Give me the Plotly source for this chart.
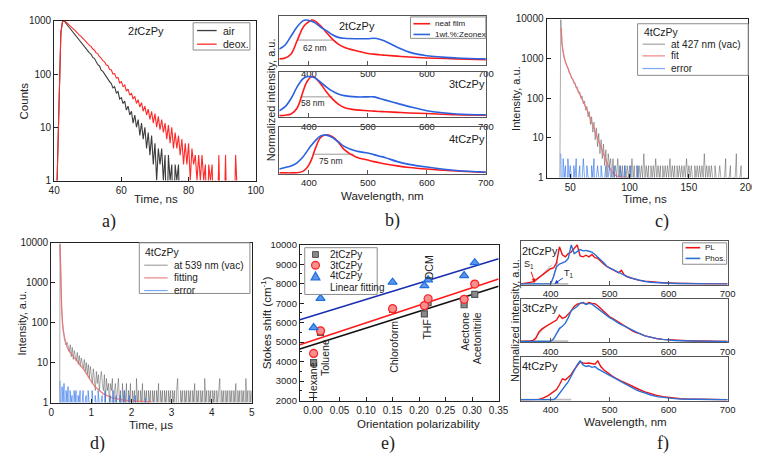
import plotly.graph_objects as go

W, H = 760, 457
def X(px): return px / W
def Y(py): return 1 - py / H

FONT = "Liberation Sans, Arial, sans-serif"
SERIF = "Liberation Serif, Times New Roman, serif"
INK = "#222222"

# ---------------- a) 2tCzPy decay, air vs deoxygenated ----------------
a_t0, a_dt = 40.0, 0.5
a_air = [0.1, 0.1, 2, 60, 600, 980, 1000, 900, 820, 760,
         700, 630, 590, 520, 480, 440, 400, 365, 335, 300,
         280, 250, 235, 205, 195, 170, 150, 142, 118, 112,
         100, 86, 80, 72, 66, 55, 58, 44, 47, 34,
         36, 28, 31, 21, 25, 17, 20, 12, 17, 10,
         14, 7, 12, 6, 10, 4, 8, 3, 7, 2,
         5, 1, 4, 2, 4, 1, 3, 0.1, 3, 1,
         2, 0.1, 2, 1, 2, 0.1, 1, 0.1, 1, 0.1,
         0.1]
a_deox = [0.1, 0.1, 2, 55, 580, 960, 1000, 950, 880, 830,
          770, 720, 680, 620, 590, 540, 510, 470, 440, 400,
          380, 345, 330, 295, 280, 250, 240, 212, 200, 178,
          170, 148, 145, 122, 120, 100, 102, 84, 86, 68,
          72, 58, 62, 48, 52, 40, 44, 34, 38, 28,
          33, 24, 29, 20, 25, 17, 22, 14, 20, 12,
          18, 10, 16, 9, 14, 8, 12, 6, 11, 5,
          10, 4, 8, 4, 7, 3, 6, 2, 5, 2,
          5, 1, 4, 2, 3, 1, 3, 1, 3, 1,
          2, 0.1, 2, 1, 2, 0.1, 1, 0.1, 3, 0.1,
          1, 0.1, 3, 0.1, 1, 0.1, 1, 0.1, 3, 0.1,
          0.1]
a_xticks = [40, 60, 80, 100]
log_ticks3 = [1, 10, 100, 1000]
log_text3 = ["1", "10", "100", "1000"]

# ---------------- b) steady-state PL spectra ----------------
b_wl = [350, 360, 370, 380, 390, 395, 400, 405, 410, 420, 430, 440,
        450, 460, 480, 500, 510, 520, 530, 550, 570, 600, 650, 700]
b_names = ["2tCzPy", "3tCzPy", "4tCzPy"]
b_neat = [
    [0.13, 0.15, 0.24, 0.53, 0.83, 0.91, 0.96, 1.0, 0.98, 0.87, 0.72, 0.57,
     0.46, 0.39, 0.31, 0.25, 0.235, 0.22, 0.21, 0.19, 0.17, 0.15, 0.13, 0.11],
    [0.04, 0.05, 0.08, 0.22, 0.62, 0.82, 0.94, 1.0, 0.98, 0.82, 0.62, 0.45,
     0.32, 0.24, 0.18, 0.16, 0.15, 0.14, 0.135, 0.12, 0.105, 0.09, 0.06, 0.05],
    [0.02, 0.02, 0.02, 0.025, 0.06, 0.12, 0.22, 0.38, 0.6, 0.93, 1.0, 0.95,
     0.81, 0.62, 0.43, 0.35, 0.31, 0.28, 0.25, 0.2, 0.16, 0.12, 0.07, 0.03],
]
b_zeonex = [
    [0.35, 0.44, 0.64, 0.84, 0.98, 1.0, 0.99, 0.97, 0.94, 0.84, 0.76, 0.67,
     0.61, 0.59, 0.58, 0.58, 0.59, 0.57, 0.52, 0.39, 0.28, 0.2, 0.15, 0.13],
    [0.16, 0.26, 0.46, 0.74, 0.94, 0.99, 1.0, 0.99, 0.97, 0.86, 0.74, 0.64,
     0.57, 0.53, 0.5, 0.5, 0.5, 0.46, 0.42, 0.34, 0.26, 0.16, 0.08, 0.06],
    [0.12, 0.16, 0.2, 0.28, 0.43, 0.53, 0.64, 0.74, 0.83, 0.97, 0.99, 0.93,
     0.82, 0.7, 0.58, 0.53, 0.49, 0.45, 0.41, 0.31, 0.24, 0.17, 0.08, 0.04],
]
b_fwhm_x = [[380, 442], [386, 440], [407, 476]]
b_fwhm_y = [0.55, 0.5, 0.5]
b_fwhm_text = ["62 nm", "58 nm", "75 nm"]
b_fwhm_label_xy = [(410, 0.38), (407, 0.35), (438, 0.33)]
b_ymax = [1.09, 1.10, 1.2]
wl_ticks = [400, 500, 600, 700]

# ---------------- c) 4tCzPy prompt decay at 427 nm ----------------
c_t0 = 38
c_counts = [0.1, 0.1, 0.1, 0.1, 9500, 2400, 1500, 950, 850, 640,
            600, 440, 420, 320, 310, 240, 245, 180, 190, 135,
            145, 100, 115, 72, 85, 50, 62, 34, 46, 22,
            34, 14, 25, 9, 18, 6, 13, 4, 9, 3,
            7, 2, 5, 1, 4, 2, 3, 1, 3, 1,
            2, 1, 3, 1, 2, 1, 2, 0.1, 2, 1,
            2, 1, 2, 1, 3, 1, 2, 0.1, 2, 1,
            2, 1, 2, 1, 4, 1, 2, 1, 2, 0.1,
            2, 1, 2, 1, 3, 1, 2, 1, 2, 0.1,
            2, 1, 2, 1, 2, 1, 3, 1, 2, 1,
            2, 0.1, 2, 1, 2, 1, 2, 1, 2, 1,
            3, 1, 2, 1, 2, 1, 0.1, 2, 1, 2,
            1, 2, 1, 2, 1, 4, 1, 2, 1, 2,
            1, 2, 1, 0.1, 2, 1, 0.1, 1, 2, 1,
            0.1, 1, 1, 3, 0.1, 1, 1, 2, 0.1, 1,
            1, 1, 4, 0.1, 1, 1, 2, 0.1, 1, 1,
            0.1, 1, 1]
c_fit_t = [42.3, 42.6, 43, 44, 45, 46, 47, 48, 49, 50, 51, 52, 53, 54, 55, 56, 57,
           58, 59, 60, 61, 62, 63, 64, 65, 66, 67, 68, 69, 70, 71, 72, 73, 74, 75,
           76, 77, 78, 79, 80, 81, 82, 83, 84, 85, 86, 88, 90, 94, 100]
c_fit = [6000, 3500, 2500, 1400, 1000, 800, 680, 560, 470, 400, 340, 300, 260, 230,
         200, 175, 150, 132, 115, 100, 85, 72, 62, 52, 44, 37, 31, 26, 21, 17.5,
         14.5, 12, 10, 8.2, 6.8, 5.6, 4.6, 3.8, 3.2, 2.7, 2.3, 2.0, 1.75, 1.55,
         1.4, 1.3, 1.15, 1.08, 1.03, 1.0]
c_err_t0 = 42
c_err = [4, 0.1, 3, 1, 2, 0.1, 3, 1, 2, 1, 0.1, 2, 1, 3, 0.1, 1, 2, 0.1, 1, 3,
         1, 0.1, 2, 1, 1, 0.1, 2, 1, 3, 0.1, 1, 2, 1, 0.1, 2, 1, 0.1, 1, 2, 0.1,
         1, 2, 1, 0.1, 1, 2, 0.1, 1, 1, 0.1, 2, 1, 0.1, 1, 2, 0.1, 1, 0.1, 1, 2,
         0.1, 1, 0.1, 1, 0.1, 2, 0.1, 1, 0.1, 1, 0.1, 1, 0.1, 0.1, 1, 0.1, 0.1, 1]
c_xticks = [50, 100, 150, 200]
log_ticks4 = [1, 10, 100, 1000, 10000]
log_text4 = ["1", "10", "100", "1000", "10000"]

# ---------------- d) 4tCzPy delayed decay at 539 nm ----------------
d_t_early = [0.18, 0.20, 0.21, 0.22, 0.23, 0.24, 0.26, 0.28, 0.30, 0.33, 0.36, 0.40]
d_counts_early = [0.1, 0.1, 0.1, 9500, 2500, 700, 220, 110, 60, 45, 28, 32]
d_t_late0, d_t_late_dt = 0.45, 0.025
d_counts_late = [19, 28, 14, 24, 12, 20, 16, 11, 18, 9, 15, 8, 13, 10, 7, 12, 6, 10, 5, 9,
                 4, 8, 5, 3, 7, 4, 2, 6, 3, 5, 2, 4, 6, 3, 2, 5, 1, 4, 2, 3,
                 1, 3, 2, 4, 0.1, 2, 3, 1, 2, 4, 1, 2, 0.1, 3, 1, 2, 1, 3, 0.1, 2,
                 1, 3, 0.1, 2, 1, 2, 0.1, 4, 1, 2, 0.1, 2, 1, 3, 0.1, 2, 1, 2, 0.1, 2,
                 1, 2, 0.1, 2, 1, 2, 0.1, 2, 1, 3, 0.1, 2, 1, 2, 0.1, 2, 1, 2, 0.1, 2,
                 1, 2, 0.1, 2, 1, 2, 0.1, 2, 4, 1, 0.1, 2, 1, 2, 0.1, 2, 1, 2, 0.1, 2,
                 1, 2, 0.1, 2, 1, 3, 0.1, 2, 1, 2, 0.1, 2, 1, 2, 0.1, 4, 1, 2, 0.1, 2,
                 1, 2, 0.1, 2, 1, 2, 0.1, 2, 1, 2, 4, 0.1, 2, 1, 2, 0.1, 2, 1, 2, 0.1,
                 2, 1, 2, 0.1, 2, 1, 3, 0.1, 2, 1, 2, 0.1, 2, 1, 2, 0.1, 4, 1, 2, 0.1,
                 2, 1, 2]
d_fit_t = [0.22, 0.23, 0.24, 0.26, 0.28, 0.30, 0.33, 0.36, 0.40, 0.45, 0.50, 0.55,
           0.60, 0.65, 0.70, 0.75, 0.80, 0.85, 0.90, 0.95, 1.00, 1.05, 1.10, 1.15,
           1.20, 1.25, 1.30, 1.35, 1.40, 1.50, 1.60, 1.70, 1.80, 2.00, 2.50]
d_fit = [9000, 2500, 800, 250, 100, 60, 40, 33, 24, 19, 16.5, 14, 12.5, 11, 9.5,
         8.2, 7, 5.8, 4.8, 4, 3.3, 2.8, 2.45, 2.2, 2.0, 1.8, 1.65, 1.55, 1.47, 1.35,
         1.27, 1.2, 1.15, 1.1, 1.04]
d_err_t0, d_err_dt = 0.22, 0.025
d_err = [3.5, 0.1, 2.5, 1, 3, 0.1, 2, 1, 2.5, 0.1, 2, 1, 1.5, 0.1, 2, 1, 2, 0.1,
         1.5, 1, 2, 0.1, 1, 2, 0.1, 1, 1.5, 0.1, 2, 1, 1, 0.1, 2, 1, 0.1, 1.5, 1,
         0.1, 2, 1, 0.1, 1, 1.5, 0.1, 1, 2, 0.1, 1, 1, 0.1, 1.5, 1, 0.1, 2, 0.1, 1,
         1.5, 0.1, 1, 0.1, 1.5, 1, 0.1, 1, 2, 0.1, 1, 0.1, 1, 1.5, 0.1, 1, 0.1, 1,
         0.1, 1.5, 0.1, 1, 0.1, 1, 0.1, 0.1, 1, 0.1, 0.1, 1.3, 0.1, 0.1, 1, 0.1]
d_xticks = [0, 1, 2, 3, 4, 5]

# ---------------- e) Lippert-Mataga ----------------
e_solvents = ["Hexane", "Toluene", "Chloroform", "THF", "DCM", "Aectone", "Acetonitrile"]
e_polarizability = [0.001, 0.014, 0.150, 0.210, 0.217, 0.285, 0.305]
e_2t = [3950, 5500, 6680, 6450, 7030, 6920, 7450]
e_3t = [4420, 5580, 6720, 6880, 7230, 7200, 7980]
e_4t = [5750, 7250, 8080, 7900, 8200, 8420, 9080]
e_fit_slope = [8590, 9010, 8350]
e_fit_intercept = [4865, 5095, 6360]
e_fit_x = [-0.025, 0.35]
e_xticks = [0.00, 0.05, 0.10, 0.15, 0.20, 0.25, 0.30, 0.35]
e_yticks = [2000, 3000, 4000, 5000, 6000, 7000, 8000, 9000, 10000]
e_yticktext = ["2000", "3000", "4000", "5000", "6000", "7000", "8000", "9000", "10000"]

# ---------------- f) PL vs phosphorescence ----------------
f_wl = [350, 355, 360, 365, 370, 375, 380, 385, 390, 395, 400, 405, 410, 415, 420,
        425, 430, 435, 440, 445, 450, 455, 460, 465, 470, 475, 480, 485, 490, 495,
        500, 505, 510, 515, 520, 525, 530, 535, 540, 545, 550, 560, 570, 580, 590,
        600, 610, 620, 630, 640, 650, 660, 670, 680, 690, 700]
f_pl = [
    [0.02, 0.03, 0.04, 0.05, 0.07, 0.12, 0.18, 0.24, 0.30, 0.36, 0.40,
     0.42, 0.55, 0.95, 0.75, 0.70, 0.78, 0.82, 0.92, 1.0, 0.72,
     0.70, 0.74, 0.70, 0.76, 0.68, 0.66, 0.58, 0.52, 0.46, 0.42,
     0.38, 0.33, 0.30, 0.36, 0.24, 0.20, 0.18, 0.15, 0.13, 0.11,
     0.09, 0.07, 0.06, 0.05, 0.04, 0.035, 0.03, 0.03, 0.025, 0.02, 0.02, 0.02, 0.02, 0.02, 0.02],
    [0.02, 0.02, 0.03, 0.03, 0.04, 0.10, 0.25, 0.33, 0.38, 0.42, 0.46,
     0.50, 0.56, 0.68, 0.60, 0.63, 0.70, 0.79, 0.90, 0.96, 0.98,
     1.0, 0.96, 1.0, 0.98, 0.97, 0.92, 0.85, 0.78, 0.70, 0.64,
     0.60, 0.55, 0.50, 0.45, 0.40, 0.36, 0.31, 0.27, 0.24, 0.22,
     0.16, 0.12, 0.09, 0.07, 0.06, 0.05, 0.04, 0.035, 0.03, 0.03, 0.025, 0.02, 0.02, 0.02, 0.02],
    [0.02, 0.02, 0.02, 0.02, 0.02, 0.025, 0.03, 0.05, 0.08, 0.12, 0.17,
     0.22, 0.28, 0.40, 0.55, 0.52, 0.58, 0.66, 0.78, 0.88, 0.98,
     0.95, 0.94, 0.95, 0.94, 0.92, 1.0, 0.86, 0.78, 0.72, 0.66,
     0.61, 0.57, 0.52, 0.49, 0.46, 0.42, 0.38, 0.34, 0.31, 0.28,
     0.22, 0.17, 0.13, 0.10, 0.08, 0.06, 0.05, 0.04, 0.035, 0.03, 0.025, 0.02, 0.02, 0.02, 0.02],
]
f_phos = [
    [0.02, 0.02, 0.02, 0.02, 0.02, 0.02, 0.02, 0.02, 0.02, 0.02, 0.02,
     0.20, 0.45, 0.52, 0.55, 0.58, 0.66, 1.0, 0.78, 0.82, 0.88,
     0.85, 0.86, 0.84, 0.82, 0.76, 0.70, 0.62, 0.55, 0.47, 0.42,
     0.38, 0.34, 0.31, 0.28, 0.24, 0.20, 0.17, 0.15, 0.13, 0.11,
     0.08, 0.06, 0.05, 0.04, 0.035, 0.03, 0.03, 0.025, 0.02, 0.02, 0.02, 0.02, 0.02, 0.02, 0.02],
    [0.02, 0.02, 0.02, 0.02, 0.02, 0.02, 0.02, 0.02, 0.02, 0.02, 0.02,
     0.08, 0.20, 0.35, 0.40, 0.48, 0.62, 0.80, 0.85, 0.90, 0.98,
     1.0, 0.95, 0.98, 0.96, 0.90, 0.86, 0.80, 0.74, 0.68, 0.62,
     0.58, 0.52, 0.48, 0.44, 0.40, 0.36, 0.32, 0.28, 0.25, 0.22,
     0.16, 0.12, 0.09, 0.07, 0.05, 0.04, 0.035, 0.03, 0.03, 0.025, 0.02, 0.02, 0.02, 0.02, 0.02],
    [0.02, 0.02, 0.02, 0.02, 0.02, 0.02, 0.02, 0.02, 0.02, 0.02, 0.02, 0.02,
     0.08, 0.18, 0.28, 0.38, 0.48, 0.62, 0.78, 0.90, 1.0,
     0.90, 0.86, 0.88, 0.84, 0.86, 0.80, 0.76, 0.72, 0.68, 0.62,
     0.58, 0.55, 0.50, 0.47, 0.42, 0.38, 0.34, 0.30, 0.27, 0.24,
     0.18, 0.14, 0.10, 0.08, 0.06, 0.05, 0.04, 0.035, 0.03, 0.025, 0.02, 0.02, 0.02, 0.02, 0.02],
]
f_base_x = [[350, 430], [350, 430], [350, 435]]
f_base_y = 0.02
f_tangents = [
    [([370, 402], [0.02, 0.50]), ([401, 412], [0.02, 0.58])],
    [([368, 392], [0.02, 0.40]), ([401, 418], [0.02, 0.38])],
    [],
]
f_ymax = [1.1, 1.083, 1.107]

# ===================== figure =====================
fig = go.Figure()
RED, BLUE = "#ff1a1a", "#2a62e0"
GRAY_T = "rgba(50,50,50,0.45)"
FIT_T = "rgba(235,110,110,0.85)"
ERR_T = "rgba(40,110,235,0.6)"

def axis(domain, rng, anchor, **kw):
    d = dict(domain=domain, range=rng, anchor=anchor, showline=True, linecolor=INK,
             linewidth=1, mirror=True, ticks="inside", ticklen=4, tickwidth=1,
             tickcolor=INK, tickfont=dict(family=FONT, size=10, color=INK),
             showgrid=False, zeroline=False, fixedrange=True)
    d.update(kw)
    return d

def line(x, y, xa, ya, color, width=1.2, shape="linear"):
    fig.add_trace(go.Scatter(x=x, y=y, xaxis=xa, yaxis=ya, mode="lines",
                             line=dict(color=color, width=width, shape=shape),
                             showlegend=False, hoverinfo="skip"))

# a)
a_air_t = [a_t0 + a_dt * i for i in range(len(a_air))]
a_deox_t = [a_t0 + a_dt * i for i in range(len(a_deox))]
line(a_air_t, a_air, "x", "y", "#3c3c3c", 1.1)
line(a_deox_t, a_deox, "x", "y", "#ff2a2a", 1.1)

# b)
for i in range(3):
    xa, ya = "x%d" % (i + 2), "y%d" % (i + 2)
    line(b_fwhm_x[i], [b_fwhm_y[i]] * 2, xa, ya, "#9a9a9a", 1)
    line(b_wl, b_neat[i], xa, ya, RED, 1.6, "spline")
    line(b_wl, b_zeonex[i], xa, ya, BLUE, 1.6, "spline")

# c)
c_t = [c_t0 + i for i in range(len(c_counts))]
c_err_t = [c_err_t0 + i for i in range(len(c_err))]
line(c_t, c_counts, "x5", "y5", GRAY_T, 0.9)
line(c_fit_t, c_fit, "x5", "y5", FIT_T, 1.3)
line(c_err_t, c_err, "x5", "y5", ERR_T, 1)

# d)
d_t = d_t_early + [round(d_t_late0 + d_t_late_dt * i, 4) for i in range(len(d_counts_late))]
d_counts = d_counts_early + d_counts_late
d_err_t = [round(d_err_t0 + d_err_dt * i, 4) for i in range(len(d_err))]
line(d_t, d_counts, "x6", "y6", GRAY_T, 0.9)
line(d_fit_t, d_fit, "x6", "y6", FIT_T, 1.3)
line(d_err_t, d_err, "x6", "y6", ERR_T, 1)

# e)
fit_colors = ["#111111", "#ff1a1a", "#1a2fb0"]
for k in range(3):
    ys = [e_fit_intercept[k] + e_fit_slope[k] * x for x in e_fit_x]
    line(e_fit_x, ys, "x7", "y7", fit_colors[k], 1.6)
e_series = [(e_2t, "square", "#8a8a8a", "#555555", 6),
            (e_3t, "circle", "#f59090", "#ff2020", 8),
            (e_4t, "triangle-up", "#5c95ea", "#1f6fe0", 8)]
for vals, sym, fill, edge, size in e_series:
    fig.add_trace(go.Scatter(x=e_polarizability, y=vals, xaxis="x7", yaxis="y7",
                             mode="markers", showlegend=False,
                             marker=dict(symbol=sym, size=size, color=fill,
                                         line=dict(color=edge, width=1.2)),
                             hoverinfo="skip"))

# f)
for i in range(3):
    xa, ya = "x%d" % (i + 8), "y%d" % (i + 8)
    line(f_base_x[i], [f_base_y] * 2, xa, ya, "#bdbdbd", 2)
    for tx, ty in f_tangents[i]:
        line(tx, ty, xa, ya, "#a8a8a8", 1)
    line(f_wl, f_pl[i], xa, ya, "#ee1111", 1.4)
    line(f_wl, f_phos[i], xa, ya, "#2b70d8", 1.4)

# ---------------- axes ----------------
lay = {}
lay["xaxis"] = axis([X(41), X(247)], [40, 100], "y", tickvals=a_xticks)
lay["yaxis"] = axis([Y(171), Y(7)], [0, 3], "x", type="log", tickvals=log_ticks3,
                    ticktext=log_text3)
b_dom = [(52, 2), (106, 60), (164, 116)]
for i in range(3):
    lay["xaxis%d" % (i + 2)] = axis([X(271), X(482)], [350, 700], "y%d" % (i + 2),
                                    tickvals=wl_ticks, linecolor="#555", tickcolor="#555",
                                    tickfont=dict(family=FONT, size=9.5, color=INK))
    lay["yaxis%d" % (i + 2)] = axis([Y(b_dom[i][0]), Y(b_dom[i][1])], [0, b_ymax[i]],
                                    "x%d" % (i + 2), ticks="", showticklabels=False,
                                    linecolor="#555")
lay["xaxis5"] = axis([X(544), X(750)], [30, 200], "y5", tickvals=c_xticks)
lay["yaxis5"] = axis([Y(168), Y(5)], [0, 4], "x5", type="log", tickvals=log_ticks4,
                     ticktext=log_text4)
lay["xaxis6"] = axis([X(38), X(243)], [0, 5], "y6", tickvals=d_xticks)
lay["yaxis6"] = axis([Y(399), Y(235)], [0, 4], "x6", type="log", tickvals=log_ticks4,
                     ticktext=log_text4)
lay["xaxis7"] = axis([X(292), X(495)], [-0.025, 0.35], "y7", tickvals=e_xticks,
                     tickformat=".2f", minor=dict(ticks="inside", ticklen=2, nticks=2))
lay["yaxis7"] = axis([Y(397), Y(237)], [2000, 10000], "x7", tickvals=e_yticks,
                     ticktext=e_yticktext,
                     tickfont=dict(family=FONT, size=9.5, color=INK),
                     minor=dict(ticks="inside", ticklen=2, dtick=500))
f_dom = [(278, 233), (337, 293), (397, 352)]
for i in range(3):
    lay["xaxis%d" % (i + 8)] = axis([X(518), X(729)], [350, 700], "y%d" % (i + 8),
                                    tickvals=wl_ticks, linecolor="#555", tickcolor="#555",
                                    tickfont=dict(family=FONT, size=9.5, color=INK))
    lay["yaxis%d" % (i + 8)] = axis([Y(f_dom[i][0]), Y(f_dom[i][1])], [0, f_ymax[i]],
                                    "x%d" % (i + 8), ticks="", showticklabels=False,
                                    linecolor="#555")

# ---------------- annotations & hand-drawn legends ----------------
ann, shapes = [], []
def text(px, py, s, size=11, angle=0, family=FONT, xanchor="center"):
    ann.append(dict(x=X(px), y=Y(py), xref="paper", yref="paper", text=s,
                    showarrow=False, textangle=angle, xanchor=xanchor, yanchor="middle",
                    font=dict(family=family, size=size, color=INK)))

def pline(x0, y0, x1, y1, color, width=1.5):
    shapes.append(dict(type="line", xref="paper", yref="paper", x0=X(x0), y0=Y(y0),
                       x1=X(x1), y1=Y(y1), line=dict(color=color, width=width)))

def legend_box(x0, y0, x1, y1):
    shapes.append(dict(type="rect", xref="paper", yref="paper", x0=X(x0), y0=Y(y1),
                       x1=X(x1), y1=Y(y0), fillcolor="white",
                       line=dict(color="#8c8c8c", width=1)))

def legend_lines(box, rows, lx0, lx1, tx, size, title=None):
    legend_box(*box)
    if title:
        text(title[0], title[1], title[2], size + 0.5, xanchor="left")
    for y, color, label, w in rows:
        pline(lx0, y, lx1, y, color, w)
        text(tx, y, label, size, xanchor="left")

legend_lines((183, 9, 241, 37), [(17, "#3c3c3c", "air", 1.3), (31, "#ff2a2a", "deox.", 1.3)],
             187, 207, 211, 10.5)
legend_lines((405, 3, 482, 25), [(10, RED, "neat film", 1.6), (21, BLUE, "1wt.%:Zeonex", 1.6)],
             408, 425, 428, 8)
legend_lines((637, 10, 750, 63),
             [(31, GRAY_T, "at 427 nm (vac)", 1.2), (43, FIT_T, "fit", 1.2),
              (56, ERR_T, "error", 1.2)], 642, 665, 669, 10, (641, 18, "4tCzPy"))
legend_lines((128, 235, 241, 287),
             [(258, GRAY_T, "at 539 nm (vac)", 1.2), (271, FIT_T, "fitting", 1.2),
              (284, ERR_T, "error", 1.2)], 133, 157, 161, 10, (132, 244, "4tCzPy"))
legend_lines((683, 235, 728, 257), [(240, "#ee1111", "PL", 1.6), (251, "#2b70d8", "Phos.", 1.6)],
             686, 701, 704, 8)

# e legend with marker glyphs
legend_box(297, 240, 371, 288)
mx = 308
shapes.append(dict(type="rect", xref="paper", yref="paper", x0=X(mx - 3), x1=X(mx + 3),
                   y0=Y(250), y1=Y(244), fillcolor="#8a8a8a", line=dict(color="#555", width=1)))
shapes.append(dict(type="circle", xref="paper", yref="paper", x0=X(mx - 4), x1=X(mx + 4),
                   y0=Y(262), y1=Y(254), fillcolor="#f59090", line=dict(color="#ff2020", width=1.2)))
shapes.append(dict(type="path", xref="paper", yref="paper",
                   path="M %f %f L %f %f L %f %f Z" % (X(mx - 4.5), Y(273), X(mx + 4.5), Y(273),
                                                       X(mx), Y(265)),
                   fillcolor="#5c95ea", line=dict(color="#1f6fe0", width=1.2)))
for y, lab in [(247, "2tCzPy"), (258, "3tCzPy"), (269, "4tCzPy"), (281, "Linear fitting")]:
    text(321, y, lab, 10, xanchor="left")

# panel letters
for px, py, s in [(97, 213, "a)"), (387, 212, "b)"), (662, 213, "c)"),
                  (85, 441, "d)"), (382, 441, "e)"), (663, 441, "f)")]:
    text(px, py, s, 18, family=SERIF)
# axis titles
text(10, 89, "Counts", 11.5, -90)
text(145, 190, "Time, ns", 11.5)
text(262, 88, "Normalized intensity, a.u.", 11, -90)
text(376, 187, "Wavelength, nm", 11.5)
text(513, 87, "Intensity, a.u.", 11, -90)
text(645, 190, "Time, ns", 11.5)
text(8, 317, "Intensity, a.u.", 11, -90)
text(140, 422, "Time, \u00b5s", 11.5)
text(257, 317, "Stokes shift (cm<sup>-1</sup>)", 11.5, -90)
text(413, 421, "Orientation polarizability", 11.5)
text(511, 315, "Normalized intensity, a.u.", 11, -90)
text(625, 419, "Wavelength, nm", 11.5)
# in-panel labels
text(135, 17, "2<i>t</i>CzPy", 11)
text(350, 12, b_names[0], 11)
text(463, 72, b_names[1], 11)
text(463, 128, b_names[2], 11)
text(537, 243, "2tCzPy", 11)
text(537, 302, "3tCzPy", 11)
text(537, 361, "4tCzPy", 11)
for i in range(3):
    ann.append(dict(x=b_fwhm_label_xy[i][0], y=b_fwhm_label_xy[i][1],
                    xref="x%d" % (i + 2), yref="y%d" % (i + 2), text=b_fwhm_text[i],
                    showarrow=False, font=dict(family=FONT, size=8.5, color=INK)))
for (px, py), s in zip([(306, 377), (317, 353), (388, 342), (422, 324), (424, 260),
                        (461, 326), (473, 333)], e_solvents):
    text(px, py, s, 10.5, -90)
ann.append(dict(x=X(532), y=Y(276), xref="paper", yref="paper", text="S<sub>1</sub>",
                showarrow=True, ax=-6, ay=-18, arrowcolor="#ee1111", arrowhead=2,
                arrowsize=0.8, arrowwidth=1, font=dict(family=FONT, size=9, color=INK)))
ann.append(dict(x=X(552), y=Y(277), xref="paper", yref="paper", text="T<sub>1</sub>",
                showarrow=True, ax=15, ay=-10, arrowcolor="#1a3fd0", arrowhead=2,
                arrowsize=0.8, arrowwidth=1, font=dict(family=FONT, size=9, color=INK)))

fig.update_layout(width=W, height=H, margin=dict(l=0, r=0, t=0, b=0),
                  paper_bgcolor="white", plot_bgcolor="white", showlegend=False,
                  font=dict(family=FONT, size=10, color=INK),
                  annotations=ann, shapes=shapes, **lay)

fig.write_html("out.html")
